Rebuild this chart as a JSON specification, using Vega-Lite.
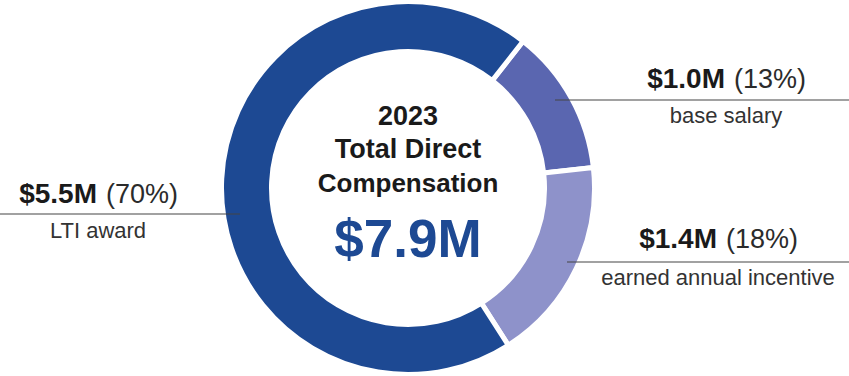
{
  "$schema": "https://vega.github.io/schema/vega-lite/v6.json",
  "autosize": {"type": "none"},
  "width": 816,
  "height": 376,
  "padding": {"left": 0, "right": 33, "top": 0, "bottom": 0},
  "background": "#ffffff",
  "config": {"view": {"stroke": null}, "text": {"font": "Liberation Sans"}},
  "datasets": {
    "segments": [
      {"segment": "base salary", "amount": "$1.0M", "share": "(13%)", "value": 1.0, "idx": 1},
      {"segment": "earned annual incentive", "amount": "$1.4M", "share": "(18%)", "value": 1.4, "idx": 2},
      {"segment": "LTI award", "amount": "$5.5M", "share": "(70%)", "value": 5.5, "idx": 3}
    ],
    "center": [
      {"line": "2023", "row": 1},
      {"line": "Total Direct", "row": 2},
      {"line": "Compensation", "row": 3},
      {"line": "$7.9M", "row": 4}
    ]
  },
  "data": {"name": "segments"},
  "layer": [
    {
      "mark": {"type": "arc", "outerRadius": 186.5, "innerRadius": 136.5, "stroke": "#ffffff", "strokeWidth": 5},
      "encoding": {
        "theta": {"field": "value", "type": "quantitative", "scale": {"range": [0.665, 6.9482]}},
        "order": {"field": "idx", "type": "quantitative"},
        "color": {"field": "segment", "type": "nominal", "legend": null,
          "scale": {"domain": ["base salary", "earned annual incentive", "LTI award"], "range": ["#5a66b0", "#8e92ca", "#1d4993"]}}
      }
    },
    {
      "transform": [{"filter": {"field": "segment", "equal": "base salary"}}],
      "mark": {"type": "rule", "color": "#444444", "strokeWidth": 1.2},
      "encoding": {
        "x": {"datum": 147, "type": "quantitative", "scale": {"domain": [-408, 408], "nice": false, "zero": false}, "axis": null},
        "x2": {"datum": 441},
        "y": {"datum": 88, "type": "quantitative", "scale": {"domain": [-188, 188], "nice": false, "zero": false}, "axis": null}
      }
    },
    {
      "transform": [{"filter": {"field": "segment", "equal": "earned annual incentive"}}],
      "mark": {"type": "rule", "color": "#444444", "strokeWidth": 1.2},
      "encoding": {
        "x": {"datum": 159, "type": "quantitative", "scale": {"domain": [-408, 408], "nice": false, "zero": false}, "axis": null},
        "x2": {"datum": 441},
        "y": {"datum": -74, "type": "quantitative", "scale": {"domain": [-188, 188], "nice": false, "zero": false}, "axis": null}
      }
    },
    {
      "transform": [{"filter": {"field": "segment", "equal": "LTI award"}}],
      "mark": {"type": "rule", "color": "#444444", "strokeWidth": 1.2},
      "encoding": {
        "x": {"datum": -408, "type": "quantitative", "scale": {"domain": [-408, 408], "nice": false, "zero": false}, "axis": null},
        "x2": {"datum": -168},
        "y": {"datum": -26, "type": "quantitative", "scale": {"domain": [-188, 188], "nice": false, "zero": false}, "axis": null}
      }
    },
    {
      "transform": [{"filter": {"field": "segment", "equal": "base salary"}}],
      "mark": {"type": "text", "fontSize": 28, "fontWeight": "bold", "align": "right", "baseline": "alphabetic", "color": "#1a1a1a"},
      "encoding": {
        "x": {"datum": 317, "type": "quantitative"},
        "y": {"datum": 100, "type": "quantitative"},
        "text": {"field": "amount"}
      }
    },
    {
      "transform": [{"filter": {"field": "segment", "equal": "base salary"}}],
      "mark": {"type": "text", "fontSize": 27, "align": "left", "baseline": "alphabetic", "color": "#2b2b2b"},
      "encoding": {
        "x": {"datum": 326, "type": "quantitative"},
        "y": {"datum": 100, "type": "quantitative"},
        "text": {"field": "share"}
      }
    },
    {
      "transform": [{"filter": {"field": "segment", "equal": "base salary"}}],
      "mark": {"type": "text", "fontSize": 22, "align": "center", "baseline": "alphabetic", "color": "#333333"},
      "encoding": {
        "x": {"datum": 318, "type": "quantitative"},
        "y": {"datum": 65, "type": "quantitative"},
        "text": {"field": "segment"}
      }
    },
    {
      "transform": [{"filter": {"field": "segment", "equal": "earned annual incentive"}}],
      "mark": {"type": "text", "fontSize": 28, "fontWeight": "bold", "align": "right", "baseline": "alphabetic", "color": "#1a1a1a"},
      "encoding": {
        "x": {"datum": 309, "type": "quantitative"},
        "y": {"datum": -60, "type": "quantitative"},
        "text": {"field": "amount"}
      }
    },
    {
      "transform": [{"filter": {"field": "segment", "equal": "earned annual incentive"}}],
      "mark": {"type": "text", "fontSize": 27, "align": "left", "baseline": "alphabetic", "color": "#2b2b2b"},
      "encoding": {
        "x": {"datum": 318, "type": "quantitative"},
        "y": {"datum": -60, "type": "quantitative"},
        "text": {"field": "share"}
      }
    },
    {
      "transform": [{"filter": {"field": "segment", "equal": "earned annual incentive"}}],
      "mark": {"type": "text", "fontSize": 22, "align": "center", "baseline": "alphabetic", "color": "#333333"},
      "encoding": {
        "x": {"datum": 310, "type": "quantitative"},
        "y": {"datum": -97, "type": "quantitative"},
        "text": {"field": "segment"}
      }
    },
    {
      "transform": [{"filter": {"field": "segment", "equal": "LTI award"}}],
      "mark": {"type": "text", "fontSize": 28, "fontWeight": "bold", "align": "right", "baseline": "alphabetic", "color": "#1a1a1a"},
      "encoding": {
        "x": {"datum": -311, "type": "quantitative"},
        "y": {"datum": -15, "type": "quantitative"},
        "text": {"field": "amount"}
      }
    },
    {
      "transform": [{"filter": {"field": "segment", "equal": "LTI award"}}],
      "mark": {"type": "text", "fontSize": 27, "align": "left", "baseline": "alphabetic", "color": "#2b2b2b"},
      "encoding": {
        "x": {"datum": -302, "type": "quantitative"},
        "y": {"datum": -15, "type": "quantitative"},
        "text": {"field": "share"}
      }
    },
    {
      "transform": [{"filter": {"field": "segment", "equal": "LTI award"}}],
      "mark": {"type": "text", "fontSize": 22, "align": "center", "baseline": "alphabetic", "color": "#333333"},
      "encoding": {
        "x": {"datum": -310, "type": "quantitative"},
        "y": {"datum": -50, "type": "quantitative"},
        "text": {"field": "segment"}
      }
    },
    {
      "data": {"name": "center"},
      "transform": [{"filter": "datum.row == 1"}],
      "mark": {"type": "text", "fontSize": 27, "fontWeight": "bold", "align": "center", "baseline": "alphabetic", "color": "#1a1a1a"},
      "encoding": {
        "x": {"datum": 0, "type": "quantitative"},
        "y": {"datum": 63, "type": "quantitative"},
        "text": {"field": "line"}
      }
    },
    {
      "data": {"name": "center"},
      "transform": [{"filter": "datum.row == 2"}],
      "mark": {"type": "text", "fontSize": 27, "fontWeight": "bold", "align": "center", "baseline": "alphabetic", "color": "#1a1a1a"},
      "encoding": {
        "x": {"datum": 0, "type": "quantitative"},
        "y": {"datum": 30, "type": "quantitative"},
        "text": {"field": "line"}
      }
    },
    {
      "data": {"name": "center"},
      "transform": [{"filter": "datum.row == 3"}],
      "mark": {"type": "text", "fontSize": 26, "fontWeight": "bold", "align": "center", "baseline": "alphabetic", "color": "#1a1a1a"},
      "encoding": {
        "x": {"datum": 0, "type": "quantitative"},
        "y": {"datum": -4, "type": "quantitative"},
        "text": {"field": "line"}
      }
    },
    {
      "data": {"name": "center"},
      "transform": [{"filter": "datum.row == 4"}],
      "mark": {"type": "text", "fontSize": 53, "fontWeight": "bold", "align": "center", "baseline": "alphabetic", "color": "#1d4993"},
      "encoding": {
        "x": {"datum": 0, "type": "quantitative"},
        "y": {"datum": -69, "type": "quantitative"},
        "text": {"field": "line"}
      }
    }
  ]
}
